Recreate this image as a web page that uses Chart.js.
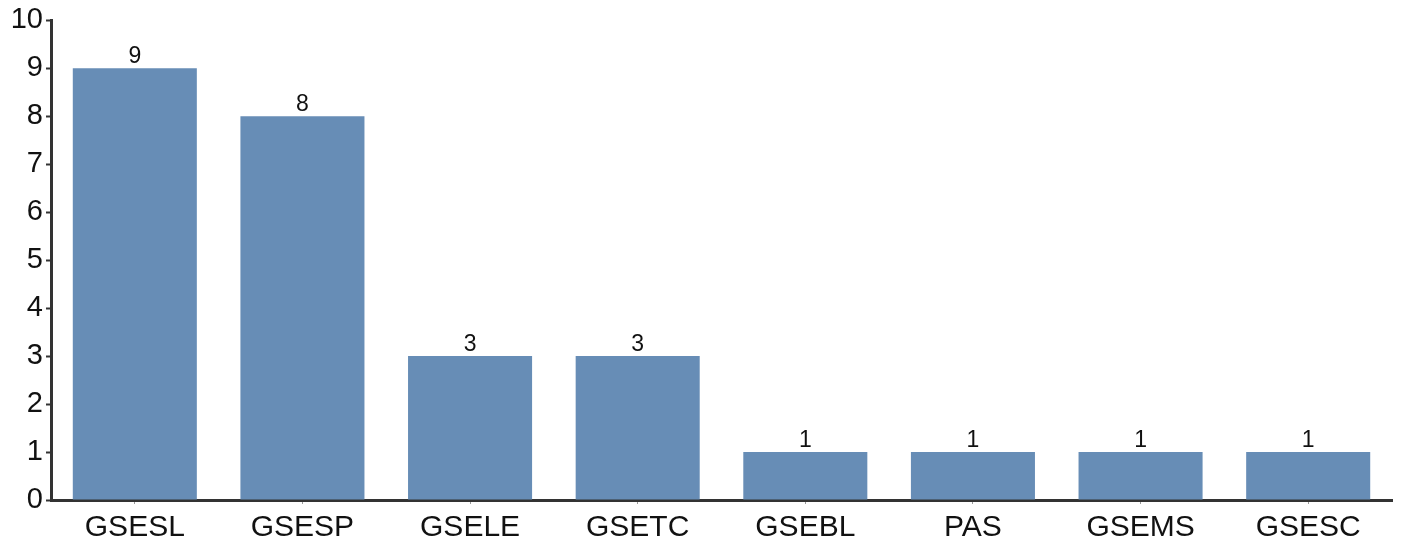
<!DOCTYPE html>
<html>
<head>
<meta charset="utf-8">
<script src="https://cdn.jsdelivr.net/npm/chart.js@4"></script>
<style>
html,body{margin:0;padding:0;background:#fff;}
#wrap{width:1404px;height:545px;position:relative;}
</style>
</head>
<body>
<div id="wrap"><canvas id="c" width="1404" height="545"></canvas></div>
<script>
const categories = ["GSESL","GSESP","GSELE","GSETC","GSEBL","PAS","GSEMS","GSESC"];
const counts = [9, 8, 3, 3, 1, 1, 1, 1];
const yTicks = [0,1,2,3,4,5,6,7,8,9,10];

const FONT = "'Liberation Sans', Arial, sans-serif";

const labelPlugin = {
  id: 'barLabels',
  afterDatasetsDraw(chart) {
    const ctx = chart.ctx;
    const meta = chart.getDatasetMeta(0);
    ctx.save();
    ctx.font = "23px " + FONT;
    ctx.fillStyle = "#111";
    ctx.textAlign = "center";
    ctx.textBaseline = "alphabetic";
    meta.data.forEach((bar, i) => {
      ctx.fillText(String(counts[i]), bar.x, bar.y - 5);
    });
    ctx.restore();
  }
};

new Chart(document.getElementById('c'), {
  type: 'bar',
  data: {
    labels: categories,
    datasets: [{
      data: counts,
      backgroundColor: '#678db6',
      borderWidth: 0,
      barPercentage: 0.74,
      categoryPercentage: 1.0
    }]
  },
  options: {
    responsive: false,
    animation: false,
    layout: { padding: { top: 20, right: 12, left: 0, bottom: 0 } },
    plugins: { legend: { display: false }, tooltip: { enabled: false } },
    scales: {
      x: {
        grid: { display: true, offset: false, drawOnChartArea: false, tickLength: 4, color: '#999', tickWidth: 1 },
        border: { display: true, color: '#333', width: 3 },
        ticks: { color: '#111', font: { size: 30, family: FONT }, padding: 6, maxRotation: 0 },
        afterFit(s) { s.height = 45; }
      },
      y: {
        min: 0, max: 10,
        afterBuildTicks(s) { s.ticks = yTicks.map(v => ({ value: v })); },
        grid: { display: true, drawOnChartArea: false, tickLength: 5, color: '#333', tickWidth: 2 },
        border: { display: true, color: '#333', width: 3 },
        ticks: { color: '#111', font: { size: 29, family: FONT }, padding: 3 },
        afterFit(s) { s.width = 51; }
      }
    }
  },
  plugins: [labelPlugin]
});
</script>
</body>
</html>
